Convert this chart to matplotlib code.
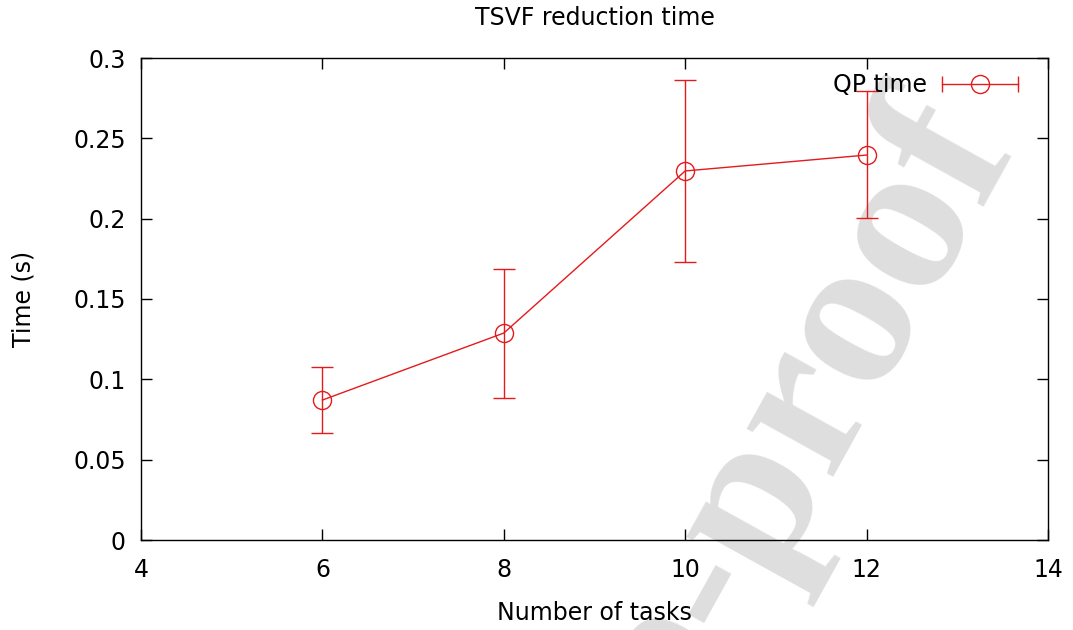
import numpy as np
import matplotlib.pyplot as plt
from matplotlib.lines import Line2D
from matplotlib.legend_handler import HandlerLine2D, HandlerTuple

# data
tasks = [6, 8, 10, 12]
qp_time = [0.0871, 0.1288, 0.2297, 0.2396]
qp_low = [0.0666, 0.0884, 0.1730, 0.2004]
qp_high = [0.1077, 0.1687, 0.2863, 0.2795]

x_ticks = [4, 6, 8, 10, 12, 14]
y_ticks = [0, 0.05, 0.1, 0.15, 0.2, 0.25, 0.3]
y_tick_labels = ["0", "0.05", "0.1", "0.15", "0.2", "0.25", "0.3"]

RED = "#e41a1c"
FS = 17

plt.rcParams["font.family"] = ["DejaVu Sans"]

fig = plt.figure(figsize=(10.73, 6.3), dpi=100)
ax = fig.add_axes([141 / 1073, 1 - 540 / 630, (1048 - 141) / 1073, (540 - 58) / 630])
ax.patch.set_alpha(0)

# watermark behind the plot
fig.text(1016 / 1073, 1 - 148 / 630, "Journal Pre-proof", rotation=61,
         rotation_mode="anchor", ha="right", va="baseline", fontsize=156,
         family="Liberation Serif", weight="bold", color="#dedede", zorder=-5)

y = np.array(qp_time)
yerr = np.vstack([y - np.array(qp_low), np.array(qp_high) - y])
ax.errorbar(tasks, qp_time, yerr=yerr, color=RED, lw=1.0, elinewidth=1.0,
            capsize=8, capthick=1.0, marker="o", markersize=13,
            markerfacecolor="none", markeredgewidth=1.0)

ax.set_xlim(4, 14)
ax.set_ylim(0, 0.3)
ax.set_xticks(x_ticks)
ax.set_xticklabels([str(t) for t in x_ticks])
ax.set_yticks(y_ticks)
ax.set_yticklabels(y_tick_labels)
ax.tick_params(direction="in", length=8, width=1.0, top=True, right=True,
               labelsize=FS, pad=11, colors="black")
ax.tick_params(axis="x", pad=13)
for s in ax.spines.values():
    s.set_linewidth(1.0)

ax.set_xlabel("Number of tasks", fontsize=FS, labelpad=14)
ax.set_ylabel("Time (s)", fontsize=FS, labelpad=27)
ax.set_title("TSVF reduction time", fontsize=FS, pad=24)

# gnuplot-like legend sample: horizontal bar with caps and a circle
cap_line = Line2D([], [], color=RED, lw=1.0, marker="|", markersize=11, markeredgewidth=1.0)
circ = Line2D([], [], color=RED, ls="none", marker="o", markersize=13,
              markerfacecolor="none", markeredgewidth=1.0)
leg = ax.legend([(cap_line, circ)], ["QP time"], loc="upper right",
                frameon=False, fontsize=FS, markerfirst=False, handlelength=3.2,
                handletextpad=0.65,
                handler_map={cap_line: HandlerLine2D(numpoints=2, marker_pad=0),
                             circ: HandlerLine2D(numpoints=1),
                             tuple: HandlerTuple(ndivide=1)})
leg.set_bbox_to_anchor((1039 / 1073, 1 - 52 / 630), transform=fig.transFigure)

fig.savefig("out.png", dpi=100)
